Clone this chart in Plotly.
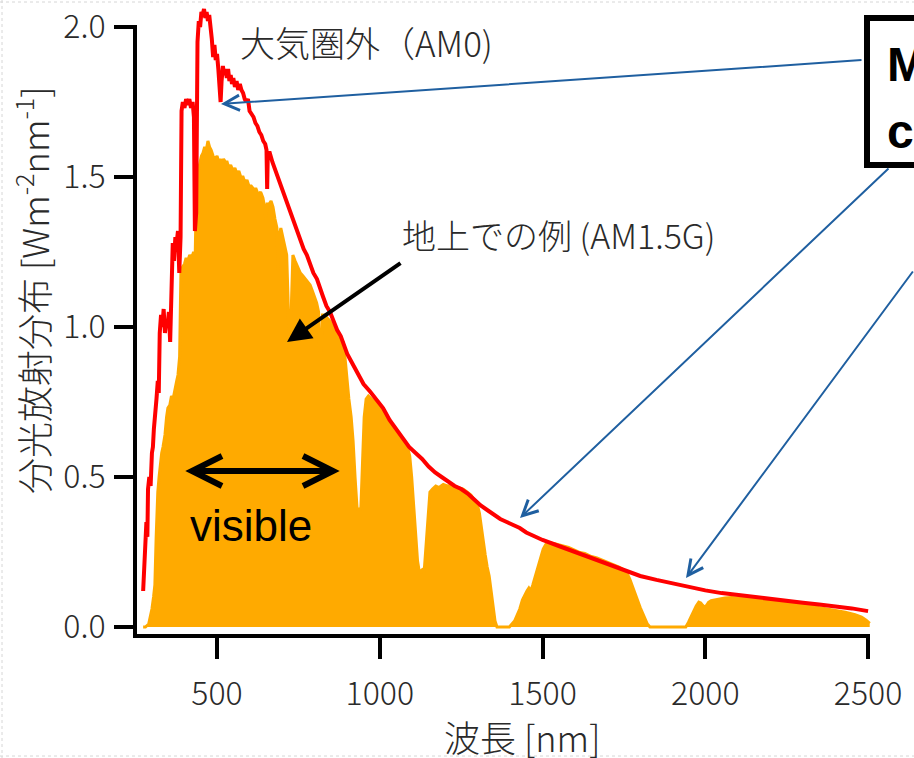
import plotly.graph_objects as go

# ---------------- data ----------------
am0_wavelength = [273, 276, 279, 283, 286, 288, 292, 296, 300, 303, 306, 310, 314, 318, 321, 324, 328, 332,
                  336, 340, 344, 348, 352, 356, 360, 364, 368, 372, 376, 380, 384, 388, 391, 395, 400, 405,
                  410, 415, 420, 425, 429, 432, 436, 440, 444, 448, 452, 456, 460, 464, 468, 472, 476, 480,
                  484, 488, 492, 496, 500, 504, 508, 511, 514, 518, 522, 526, 530, 534, 538, 542, 546, 550,
                  555, 560, 565, 570, 575, 580, 585, 590, 595, 600, 606, 612, 618, 624, 630, 636, 642, 648,
                  652, 654, 656, 662, 670, 680, 690, 700, 712, 724, 736, 746, 756, 766, 776, 786, 796, 807,
                  818, 826, 836, 847, 858, 869, 880, 890, 900, 910, 920, 930, 940, 950, 970, 990, 1010, 1030,
                  1050, 1070, 1090, 1110, 1130, 1150, 1170, 1190, 1210, 1230, 1250, 1270, 1290, 1310, 1330,
                  1350, 1370, 1390, 1410, 1430, 1450, 1470, 1500, 1550, 1600, 1650, 1700, 1750, 1800, 1850,
                  1900, 1950, 2000, 2050, 2100, 2150, 2200, 2250, 2300, 2350, 2400, 2450, 2500]
am0_irradiance = [0.12, 0.20, 0.29, 0.35, 0.30, 0.46, 0.50, 0.47, 0.58, 0.60, 0.66, 0.70, 0.76, 0.82, 0.78,
                  0.98, 1.04, 1.00, 1.06, 0.98, 1.02, 1.00, 1.05, 0.95, 1.12, 1.28, 1.22, 1.30, 1.28, 1.32,
                  1.18, 1.30, 1.72, 1.75, 1.73, 1.76, 1.74, 1.76, 1.73, 1.75, 1.70, 1.32, 1.38, 1.95, 2.02,
                  2.00, 2.05, 2.04, 2.06, 2.03, 2.05, 2.02, 2.04, 2.01, 1.96, 1.90, 1.94, 1.89, 1.91, 1.86,
                  1.80, 1.75, 1.82, 1.87, 1.84, 1.86, 1.83, 1.86, 1.82, 1.84, 1.81, 1.83, 1.80, 1.82, 1.79,
                  1.81, 1.79, 1.78, 1.76, 1.75, 1.76, 1.72, 1.71, 1.70, 1.68, 1.67, 1.65, 1.64, 1.62, 1.61,
                  1.59, 1.46, 1.58, 1.58, 1.55, 1.52, 1.49, 1.46, 1.42, 1.38, 1.35, 1.32, 1.29, 1.26, 1.24,
                  1.21, 1.18, 1.16, 1.12, 1.10, 1.07, 1.05, 1.02, 0.99, 0.97, 0.94, 0.91, 0.89, 0.87, 0.85,
                  0.83, 0.81, 0.785, 0.76, 0.73, 0.69, 0.66, 0.63, 0.60, 0.58, 0.56, 0.535, 0.515, 0.50,
                  0.485, 0.47, 0.46, 0.445, 0.425, 0.405, 0.39, 0.375, 0.36, 0.35, 0.34, 0.33, 0.315, 0.305,
                  0.29, 0.27, 0.25, 0.23, 0.21, 0.188, 0.17, 0.157, 0.145, 0.132, 0.122, 0.113, 0.106,
                  0.099, 0.093, 0.087, 0.081, 0.075, 0.069, 0.062, 0.053]

am15g_wavelength = [273, 280, 290, 294, 300, 305, 309, 313, 318, 322, 326, 330, 334, 340, 345, 349, 355, 360,
                    365, 371, 376, 380, 385, 389, 394, 400, 405, 410, 416, 422, 428, 433, 437, 442, 447, 452,
                    457, 462, 467, 472, 477, 482, 488, 494, 500, 505, 510, 515, 520, 526, 531, 536, 542, 549,
                    555, 561, 567, 573, 580, 586, 592, 598, 605, 612, 620, 627, 634, 641, 646, 650, 654, 660,
                    666, 672, 678, 684, 688, 690, 696, 702, 708, 714, 718, 721, 725, 729, 733, 740, 748, 756,
                    764, 772, 780, 786, 793, 800, 806, 812, 815, 820, 824, 830, 838, 847, 856, 865, 875, 887,
                    893, 899, 905, 912, 918, 924, 930, 936, 942, 947, 952, 958, 965, 975, 990, 1000, 1015,
                    1030, 1045, 1060, 1075, 1085, 1092, 1098, 1104, 1110, 1116, 1122, 1130, 1136, 1142, 1148,
                    1154, 1162, 1172, 1182, 1195, 1207, 1220, 1232, 1245, 1256, 1268, 1280, 1290, 1299, 1306,
                    1312, 1318, 1324, 1330, 1336, 1342, 1348, 1354, 1360, 1398, 1406, 1414, 1422, 1430, 1438,
                    1446, 1452, 1458, 1464, 1470, 1478, 1486, 1494, 1502, 1510, 1520, 1535, 1550, 1563, 1580,
                    1600, 1615, 1630, 1650, 1667, 1685, 1700, 1717, 1735, 1750, 1760, 1768, 1776, 1784, 1792,
                    1800, 1808, 1815, 1822, 1830, 1940, 1948, 1956, 1964, 1972, 1980, 1986, 1992, 1998, 2004,
                    2010, 2018, 2026, 2040, 2060, 2080, 2100, 2130, 2160, 2200, 2230, 2260, 2300, 2330, 2360,
                    2400, 2430, 2460, 2480, 2495, 2505]
am15g_irradiance = [0.0, 0.0, 0.01, 0.03, 0.06, 0.10, 0.14, 0.30, 0.45, 0.50, 0.55, 0.58, 0.60, 0.64, 0.70,
                    0.73, 0.74, 0.77, 0.76, 0.80, 0.82, 0.84, 0.90, 1.18, 1.20, 1.21, 1.23, 1.22, 1.24, 1.23,
                    1.25, 1.24, 1.48, 1.52, 1.55, 1.57, 1.58, 1.60, 1.59, 1.62, 1.60, 1.59, 1.57, 1.56, 1.57,
                    1.55, 1.56, 1.54, 1.56, 1.55, 1.55, 1.53, 1.54, 1.52, 1.53, 1.51, 1.52, 1.50, 1.50, 1.48,
                    1.49, 1.47, 1.47, 1.46, 1.46, 1.44, 1.45, 1.43, 1.40, 1.36, 1.41, 1.41, 1.42, 1.40, 1.36,
                    1.33, 1.18, 1.30, 1.33, 1.30, 1.27, 1.24, 1.10, 0.93, 0.95, 1.15, 1.24, 1.22, 1.20, 1.18,
                    1.17, 1.16, 1.15, 1.14, 1.12, 1.10, 1.08, 1.05, 0.92, 0.92, 1.04, 1.04, 1.03, 1.02, 1.00,
                    0.98, 0.97, 0.95, 0.90, 0.82, 0.76, 0.70, 0.62, 0.50, 0.40, 0.38, 0.40, 0.55, 0.70, 0.76,
                    0.77, 0.76, 0.745, 0.73, 0.71, 0.685, 0.665, 0.64, 0.62, 0.60, 0.57, 0.50, 0.40, 0.30,
                    0.22, 0.18, 0.19, 0.18, 0.27, 0.38, 0.45, 0.46, 0.47, 0.465, 0.475, 0.47, 0.472, 0.468,
                    0.465, 0.46, 0.45, 0.44, 0.425, 0.41, 0.38, 0.33, 0.28, 0.24, 0.20, 0.17, 0.12, 0.06, 0.02,
                    0.0, 0.0, 0.01, 0.02, 0.04, 0.06, 0.09, 0.11, 0.12, 0.13, 0.12, 0.14, 0.17, 0.20, 0.23,
                    0.26, 0.275, 0.28, 0.278, 0.275, 0.27, 0.265, 0.255, 0.248, 0.245, 0.235, 0.23, 0.222,
                    0.215, 0.208, 0.20, 0.19, 0.178, 0.16, 0.135, 0.11, 0.085, 0.065, 0.045, 0.025, 0.01, 0.0,
                    0.0, 0.015, 0.035, 0.05, 0.07, 0.083, 0.08, 0.072, 0.066, 0.072, 0.082, 0.088, 0.09, 0.094,
                    0.097, 0.098, 0.097, 0.096, 0.093, 0.088, 0.084, 0.080, 0.074, 0.068, 0.063, 0.056, 0.049,
                    0.041, 0.033, 0.022, 0.012]

x_tick_values = [500, 1000, 1500, 2000, 2500]
x_tick_labels = ["500", "1000", "1500", "2000", "2500"]
y_tick_values = [0.0, 0.5, 1.0, 1.5, 2.0]
y_tick_labels = ["0.0", "0.5", "1.0", "1.5", "2.0"]

label_am0 = "大気圏外（AM0)"
label_am15g = "地上での例 (AM1.5G)"
x_title = "波長 [nm]"
y_title = "分光放射分布 [Wm<sup>-2</sup>nm<sup>-1</sup>]"

# ---------------- layout geometry (pixels) ----------------
W, H = 914, 758
L, R, T, B = 135, 871, 3, 636
X_RANGE = [248, 2509]
Y_RANGE = [-0.03, 2.08]


def px(x):
    return (x - L) / (R - L)


def py(y):
    return (B - y) / (B - T)


JP = "Noto Sans CJK JP"
TXT = "#2a2a2a"
BLUE = "#1F5FA0"
ORANGE = "#FFAA00"

fig = go.Figure()
fig.add_trace(go.Scatter(x=am15g_wavelength, y=am15g_irradiance, mode="lines",
                         line=dict(color=ORANGE, width=3), fill="tozeroy", fillcolor=ORANGE,
                         hoverinfo="skip", name="AM1.5G"))
fig.add_trace(go.Scatter(x=am0_wavelength, y=am0_irradiance, mode="lines",
                         line=dict(color="#FF0000", width=4), hoverinfo="skip", name="AM0"))

axis_common = dict(ticks="outside", tickwidth=4, tickcolor="black", showline=False, showgrid=False,
                   zeroline=False, automargin=False, fixedrange=True,
                   tickfont=dict(family=JP, size=32, color=TXT, weight=300))
fig.update_layout(
    template="none",
    width=W, height=H,
    margin=dict(l=L, r=W - R, t=T, b=H - B, pad=0, autoexpand=False),
    paper_bgcolor="white", plot_bgcolor="white", showlegend=False,
    xaxis=dict(range=X_RANGE, tickvals=x_tick_values, ticktext=x_tick_labels, ticklen=22,
               ticklabelstandoff=8, **axis_common),
    yaxis=dict(range=Y_RANGE, tickvals=y_tick_values, ticktext=y_tick_labels, ticklen=20,
               ticklabelstandoff=2, **axis_common),
)

shapes = []
# axis lines
shapes.append(dict(type="line", xref="paper", yref="paper", x0=px(L), y0=py(636), x1=px(870), y1=py(636),
                   line=dict(color="black", width=4)))
shapes.append(dict(type="line", xref="paper", yref="paper", x0=px(135), y0=py(638), x1=px(135), y1=py(25),
                   line=dict(color="black", width=4)))
# black box at upper right
shapes.append(dict(type="rect", xref="paper", yref="paper", x0=px(867), x1=px(990), y0=py(165), y1=py(18),
                   line=dict(color="black", width=6), fillcolor="rgba(0,0,0,0)"))
# "visible" double arrow
pts = [(222, 456), (192, 471), (222, 486)]
path = "M{},{} L{},{} L{},{}".format(px(pts[0][0]), py(pts[0][1]), px(pts[1][0]), py(pts[1][1]),
                                     px(pts[2][0]), py(pts[2][1]))
path += " M{},{} L{},{}".format(px(192), py(471), px(333), py(471))
pts = [(303, 456), (333, 471), (303, 486)]
path += " M{},{} L{},{} L{},{}".format(px(pts[0][0]), py(pts[0][1]), px(pts[1][0]), py(pts[1][1]),
                                       px(pts[2][0]), py(pts[2][1]))
shapes.append(dict(type="path", xref="paper", yref="paper", path=path, line=dict(color="black", width=6)))
# faint dotted page border
for (x0, y0, x1, y1) in [(0, 2, W, 2), (2, 0, 2, H), (0, 756, W, 756)]:
    shapes.append(dict(type="line", xref="paper", yref="paper", x0=px(x0), y0=py(y0), x1=px(x1), y1=py(y1),
                       line=dict(color="#d6d6d6", width=1, dash="dot")))
fig.update_layout(shapes=shapes)

ann = []


def text(t, x, y, size, family=JP, color=TXT, xanchor="left", angle=0, weight=300):
    ann.append(dict(text=t, x=px(x), y=py(y), xref="paper", yref="paper", xanchor=xanchor, yanchor="middle",
                    showarrow=False, textangle=angle,
                    font=dict(family=family, size=size, color=color, weight=weight)))


def arrow(hx, hy, tx, ty, color, width, head, size):
    ann.append(dict(text="", x=px(hx), y=py(hy), xref="paper", yref="paper", ax=tx - hx, ay=ty - hy,
                    axref="pixel", ayref="pixel", showarrow=True, arrowhead=head, arrowsize=size,
                    arrowwidth=width, arrowcolor=color, standoff=0))


text(label_am0, 238, 41, 35)
text(label_am15g, 400, 234, 34)
text(x_title, 522, 736, 36, xanchor="center")
text(y_title, 32, 290, 36, xanchor="center", angle=-90)
text("visible", 251, 525, 44, family="Liberation Sans", color="black", xanchor="center", weight=400)
text("<b>M</b>", 885, 65, 48, family="Liberation Sans", color="black", weight=700)
text("<b>c</b>", 885, 131, 48, family="Liberation Sans", color="black", weight=700)

arrow(221, 104, 863, 60, BLUE, 2, 5, 1.5)
arrow(520, 518, 890, 167, BLUE, 2, 5, 1.5)
arrow(686, 578, 930, 270, BLUE, 2, 5, 1.5)
arrow(287, 342, 402, 262, "black", 4, 2, 1.2)

fig.update_layout(annotations=ann)
fig.write_html("out.html", config={"displayModeBar": False, "staticPlot": True},
               post_script="document.body.style.margin='0px';document.body.style.overflow='hidden';")
